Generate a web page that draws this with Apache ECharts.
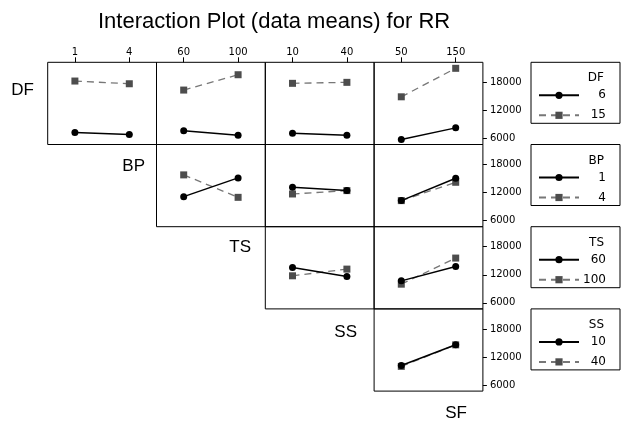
<!DOCTYPE html>
<html>
<head>
<meta charset="utf-8">
<script src="https://cdn.jsdelivr.net/npm/echarts@6/dist/echarts.min.js"></script>
<style>
html,body{margin:0;padding:0;background:#fff;}
#chart{width:621px;height:426px;}
</style>
</head>
<body>
<div id="chart"></div>
<script>
// ---- data ----
const chartTitle = 'Interaction Plot (data means) for RR';
const factors = ['DF', 'BP', 'TS', 'SS', 'SF'];
const levelsDF = ['6', '15'];
const levelsBP = ['1', '4'];
const levelsTS = ['60', '100'];
const levelsSS = ['10', '40'];
const levelsSF = ['50', '150'];
const yTicks = [6000, 12000, 18000];

// means: [series for low level of row factor, series for high level], x = column factor levels
const meanDFxBP = [[7290, 6860], [18280, 17700]];
const meanDFxTS = [[7630, 6710], [16350, 19630]];
const meanDFxSS = [[7140, 6710], [17790, 18000]];
const meanDFxSF = [[5790, 8270], [14910, 21000]];
const meanBPxTS = [[11140, 15150], [15790, 10990]];
const meanBPxSS = [[13140, 12430], [11710, 12430]];
const meanBPxSF = [[10290, 15070], [10290, 14210]];
const meanTSxSS = [[13570, 11640], [11790, 13220]];
const meanTSxSF = [[10710, 13780], [10000, 15580]];
const meanSSxSF = [[10200, 14610], [10000, 14600]];

// ---- build ----
const levels = { DF: levelsDF, BP: levelsBP, TS: levelsTS, SS: levelsSS, SF: levelsSF };
const rowFactors = factors.slice(0, 4);
const colFactors = factors.slice(1);
const panels = [
  ['DF', 'BP', meanDFxBP], ['DF', 'TS', meanDFxTS], ['DF', 'SS', meanDFxSS], ['DF', 'SF', meanDFxSF],
  ['BP', 'TS', meanBPxTS], ['BP', 'SS', meanBPxSS], ['BP', 'SF', meanBPxSF],
  ['TS', 'SS', meanTSxSS], ['TS', 'SF', meanTSxSF],
  ['SS', 'SF', meanSSxSF]
];

const L = 47.7, T = 62.3, W = 108.8, H = 82.2;
const yMin = 4714, yMax = 22286;
const smallFont = 'DejaVu Sans';

const option = {
  animation: false,
  backgroundColor: '#ffffff',
  title: [{
    text: chartTitle, left: 93, top: 6,
    textStyle: { fontFamily: 'Liberation Sans', fontSize: 22, fontWeight: 'normal', color: '#000' }
  }],
  grid: [], xAxis: [], yAxis: [], series: [], legend: [], graphic: []
};

panels.forEach((p, k) => {
  const ri = rowFactors.indexOf(p[0]);
  const ci = colFactors.indexOf(p[1]);
  option.grid.push({
    left: L + W * ci, top: T + H * ri, width: W, height: H,
    show: true, borderColor: '#000', borderWidth: 1, backgroundColor: 'transparent'
  });
  option.xAxis.push({
    gridIndex: k, type: 'category', data: levels[p[1]], position: 'top', boundaryGap: true,
    axisLine: { show: false },
    axisTick: { show: ri === 0, alignWithLabel: true, length: 5, lineStyle: { color: '#000' } },
    axisLabel: { show: ri === 0, margin: 5, fontFamily: smallFont, fontSize: 10, color: '#000' },
    splitLine: { show: false }
  });
  option.yAxis.push({
    gridIndex: k, type: 'value', min: yMin, max: yMax, position: 'right',
    axisLine: { show: false },
    axisTick: { show: ci === 3, customValues: yTicks, length: 4, lineStyle: { color: '#000' } },
    axisLabel: {
      show: ci === 3, customValues: yTicks, margin: 7, fontFamily: smallFont, fontSize: 10, color: '#000',
      formatter: v => String(v)
    },
    splitLine: { show: false }
  });
  [0, 1].forEach(s => {
    option.series.push({
      type: 'line', name: levels[p[0]][s], xAxisIndex: k, yAxisIndex: k,
      data: p[2][s],
      symbol: s ? 'rect' : 'circle', symbolSize: 7,
      itemStyle: { color: s ? '#4d4d4d' : '#000' },
      lineStyle: { color: s ? '#777' : '#000', width: s ? 1.3 : 1.5, type: s ? [7, 5] : 'solid' },
      z: s ? 2 : 3
    });
  });
});

rowFactors.forEach((f, ri) => {
  option.legend.push({
    data: levels[f], orient: 'vertical', left: 531, top: T + H * ri,
    padding: [27, 14, 2, 7], itemWidth: 40, itemHeight: 9, itemGap: 8,
    borderColor: '#000', borderWidth: 1, selectedMode: false,
    formatter: '{a|{name}}',
    textStyle: {
      fontFamily: smallFont, fontSize: 12, color: '#000',
      rich: { a: { width: 22, align: 'right', fontFamily: smallFont, fontSize: 12, color: '#000', lineHeight: 12 } }
    }
  });
  option.graphic.push({
    type: 'text', x: 604, y: 78.3 + H * ri,
    style: { text: f, align: 'right', verticalAlign: 'middle', font: '12px "DejaVu Sans"', fill: '#000' }
  });
});

const rowLabelPos = [[34, 90], [145, 166], [251, 247], [357, 332], [467, 413]];
factors.forEach((f, i) => {
  option.graphic.push({
    type: 'text', x: rowLabelPos[i][0], y: rowLabelPos[i][1],
    style: { text: f, align: 'right', verticalAlign: 'middle', font: '17px "Liberation Sans"', fill: '#000' }
  });
});

const chart = echarts.init(document.getElementById('chart'), null, { renderer: 'canvas' });
chart.setOption(option);
</script>
</body>
</html>
